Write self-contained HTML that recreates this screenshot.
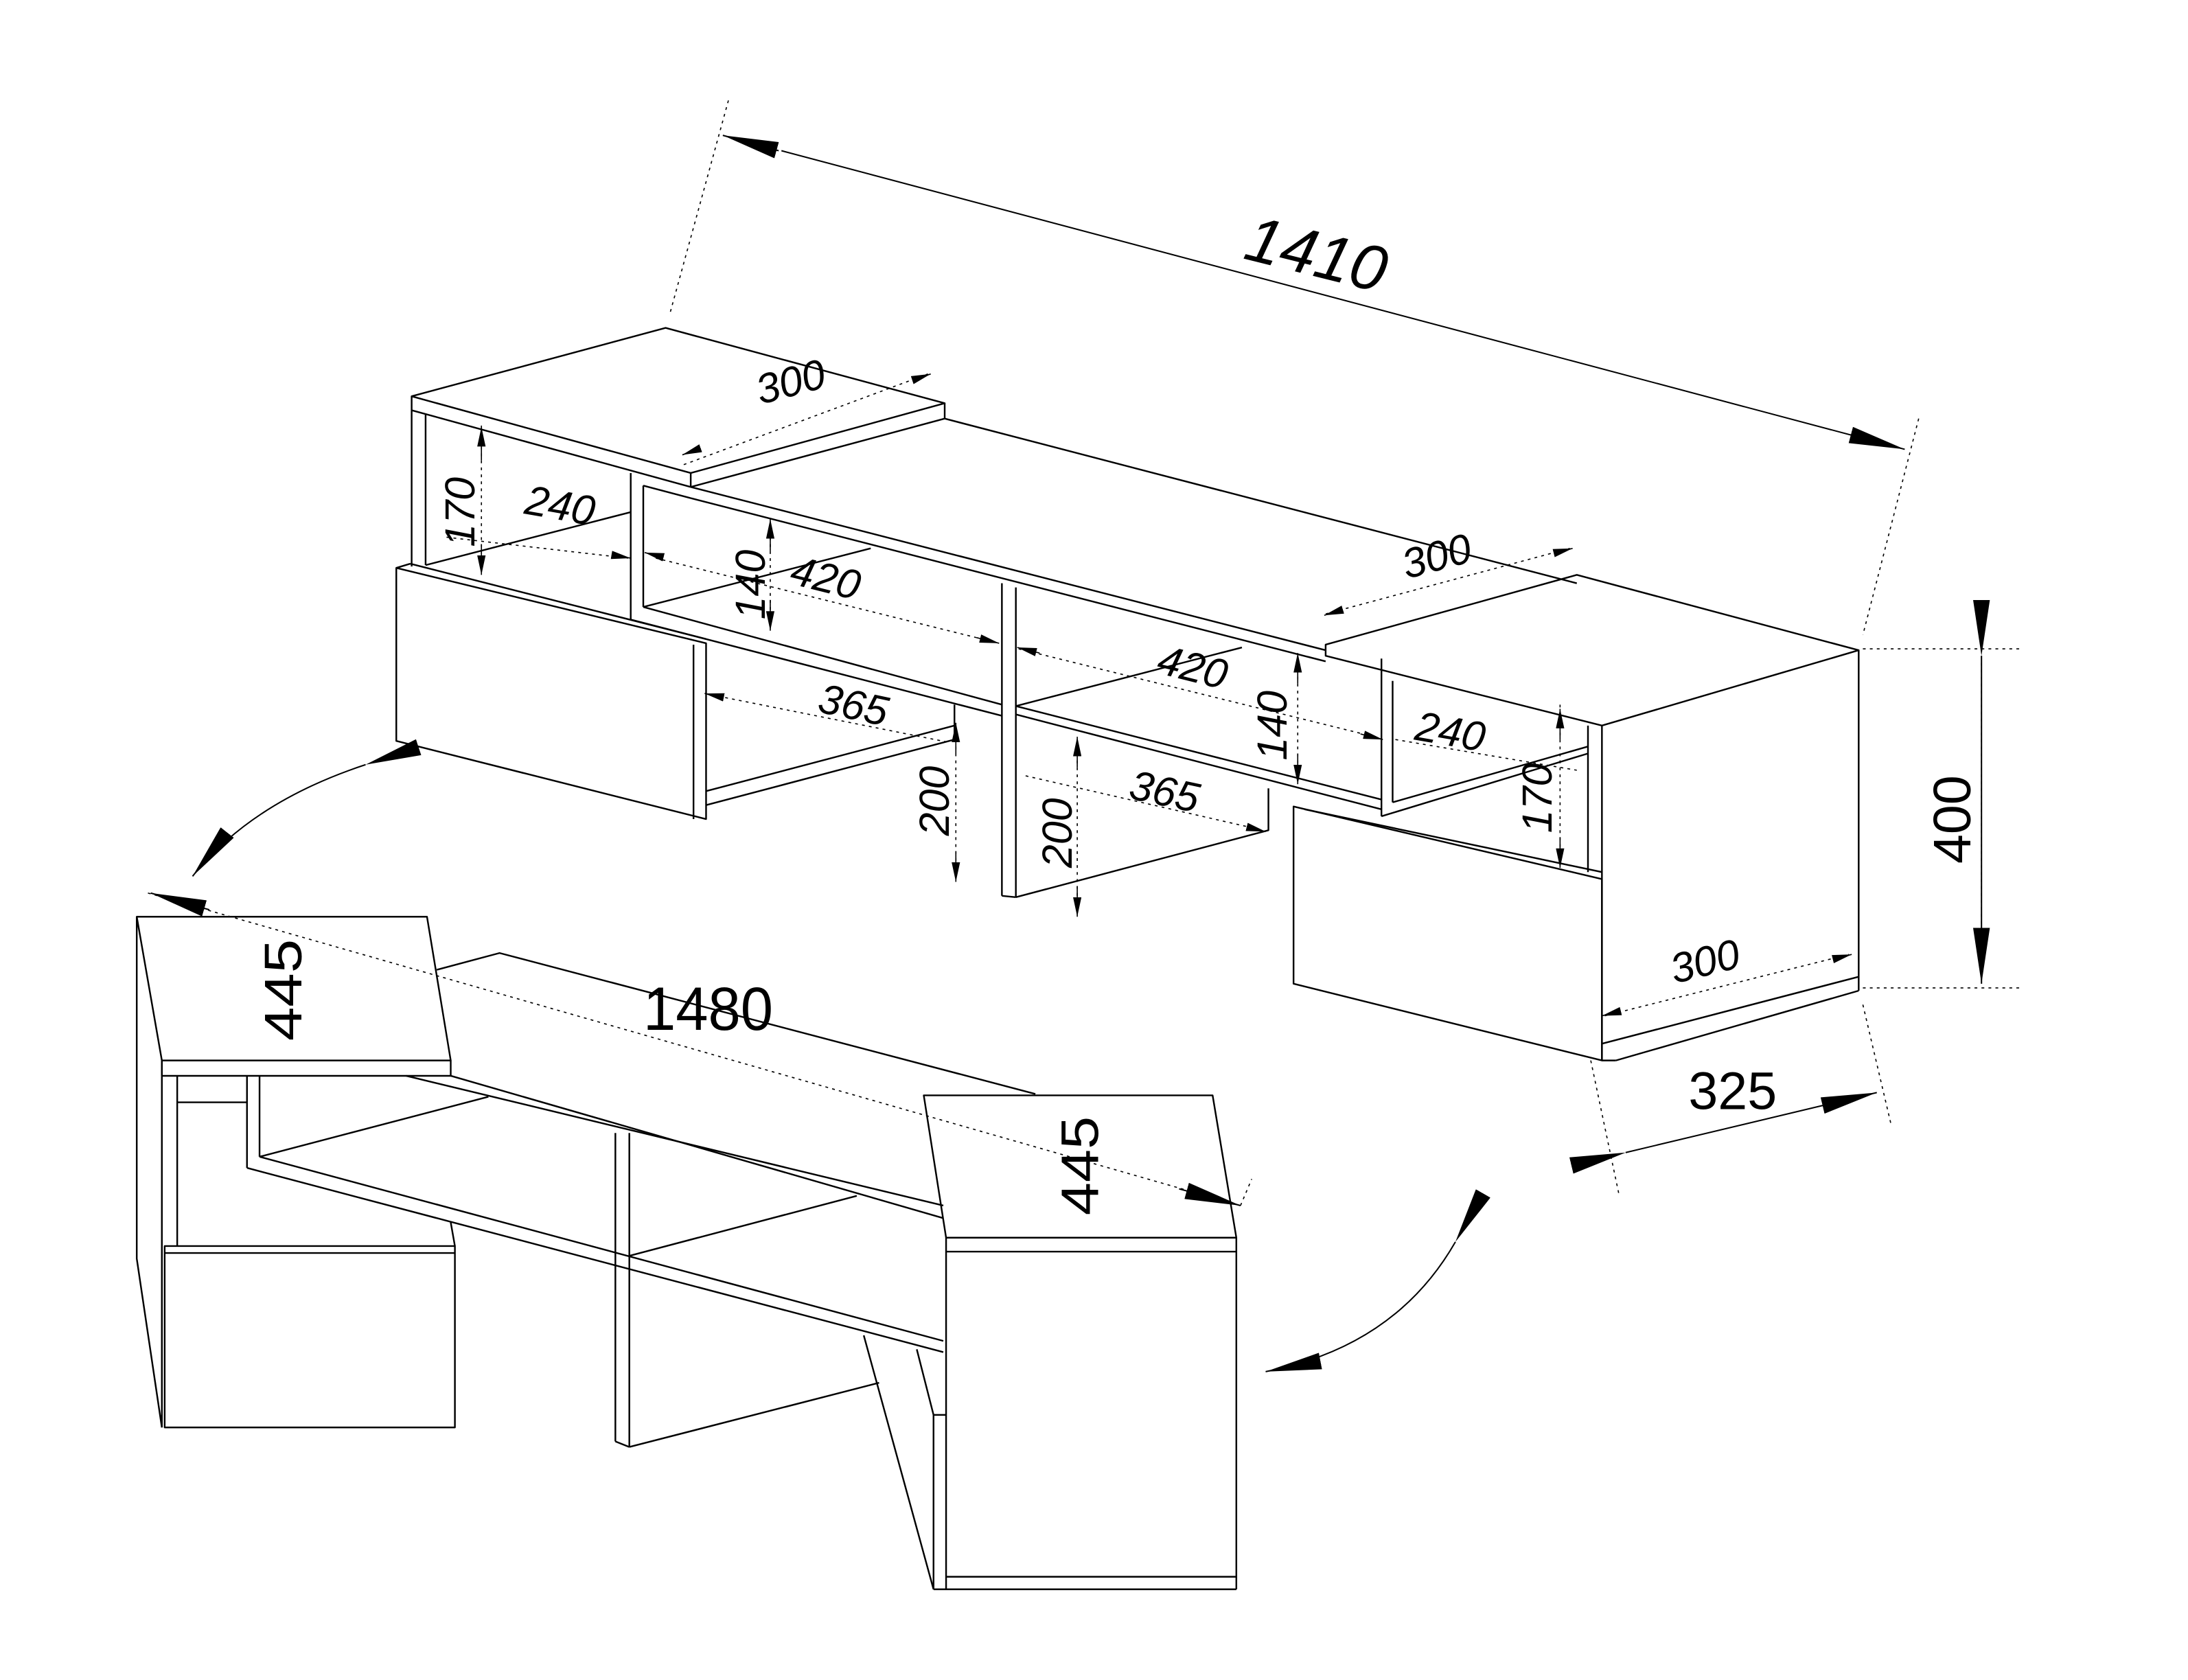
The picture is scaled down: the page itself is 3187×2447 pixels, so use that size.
<!DOCTYPE html>
<html><head><meta charset="utf-8">
<style>
html,body{margin:0;padding:0;background:#fff;}
svg{display:block;}
text{font-family:"Liberation Sans",sans-serif;fill:#000;}
</style></head>
<body>
<svg width="3187" height="2447" viewBox="0 0 1568 1204" preserveAspectRatio="none" xmlns="http://www.w3.org/2000/svg">
<defs>
<marker id="a" viewBox="0 0 40 12" refX="40" refY="6" markerWidth="40" markerHeight="12" markerUnits="userSpaceOnUse" orient="auto">
<path d="M0,0 L40,6 L0,12 Z" fill="#000"/></marker>
<marker id="s" viewBox="0 0 14 6" refX="14" refY="3" markerWidth="14" markerHeight="6" markerUnits="userSpaceOnUse" orient="auto">
<path d="M0,0 L14,3 L0,6 Z" fill="#000"/></marker>
</defs>
<rect width="1568" height="1204" fill="#fff"/>
<g fill="none" stroke="#000" stroke-width="1.2" stroke-linejoin="round">
<!-- UPPER UNIT -->
<polygon points="295,284 477,235 677,289 495,339"/>
<line x1="295" y1="284" x2="295" y2="294"/>
<line x1="295" y1="294" x2="495" y2="349"/>
<line x1="495" y1="339" x2="495" y2="349"/>
<line x1="677" y1="289" x2="677" y2="300"/>
<line x1="677" y1="300" x2="495" y2="349"/>
<line x1="677" y1="300" x2="1130" y2="418"/>
<line x1="295" y1="294" x2="295" y2="406"/>
<line x1="305" y1="297" x2="305" y2="405"/>
<line x1="305" y1="405" x2="452" y2="367"/>
<line x1="452" y1="339" x2="452" y2="444"/>
<line x1="461" y1="348" x2="461" y2="435"/>
<line x1="461" y1="435" x2="624" y2="393"/>
<line x1="495" y1="349" x2="950" y2="466"/>
<line x1="461" y1="348" x2="495" y2="357"/>
<line x1="495" y1="357" x2="950" y2="474"/>
<line x1="452" y1="444" x2="718" y2="513"/>
<line x1="461" y1="435" x2="718" y2="505"/>
<line x1="728" y1="512" x2="990" y2="580"/>
<line x1="728" y1="506" x2="990" y2="573"/>
<!-- left drawer -->
<polygon points="284,407 506,461 506,587 284,531"/>
<line x1="284" y1="407" x2="294" y2="404"/>
<line x1="294" y1="404" x2="506" y2="458"/>
<line x1="497" y1="462" x2="497" y2="587"/>
<line x1="506" y1="567" x2="684" y2="520"/>
<line x1="506" y1="577" x2="684" y2="530"/>
<line x1="684" y1="505" x2="684" y2="530"/>
<!-- center divider -->
<line x1="718" y1="418" x2="718" y2="642"/>
<line x1="728" y1="421" x2="728" y2="643"/>
<line x1="718" y1="642" x2="728" y2="643"/>
<line x1="728" y1="506" x2="890" y2="464"/>
<polyline points="728,643 909,595 909,565"/>
<!-- right cube -->
<polygon points="950,462 1130,412 1332,466 1148,520 950,470"/>
<line x1="1148" y1="520" x2="1148" y2="760"/>
<line x1="1138" y1="520" x2="1138" y2="625"/>
<line x1="1332" y1="466" x2="1332" y2="710"/>
<line x1="1148" y1="748" x2="1332" y2="700"/>
<line x1="1158" y1="760" x2="1332" y2="710"/>
<line x1="1148" y1="760" x2="1158" y2="760"/>
<line x1="990" y1="472" x2="990" y2="585"/>
<line x1="998" y1="488" x2="998" y2="575"/>
<line x1="990" y1="585" x2="1138" y2="540"/>
<line x1="998" y1="575" x2="1138" y2="535"/>
<!-- right drawer -->
<polygon points="927,578 1148,630 1148,760 927,705"/>
<line x1="935" y1="580" x2="1148" y2="625"/>

<!-- LOWER UNIT -->
<polygon points="98,657 306,657 323,760 116,760"/>
<line x1="116" y1="760" x2="116" y2="771"/>
<line x1="323" y1="760" x2="323" y2="771"/>
<line x1="116" y1="771" x2="323" y2="771"/>
<polyline points="98,657 98,902 116,1023"/>
<line x1="116" y1="760" x2="116" y2="1023"/>
<line x1="127" y1="771" x2="127" y2="893"/>
<line x1="127" y1="790" x2="177" y2="790"/>
<line x1="177" y1="771" x2="177" y2="837"/>
<line x1="186" y1="771" x2="186" y2="829"/>
<polygon points="118,893 326,893 326,1023 118,1023"/>
<line x1="118" y1="898" x2="326" y2="898"/>
<line x1="323" y1="876" x2="326" y2="893"/>
<polyline points="313,695 358,683 742,784"/>
<line x1="291" y1="771" x2="676" y2="864"/>
<line x1="323" y1="771" x2="676" y2="873"/>
<line x1="177" y1="837" x2="676" y2="969"/>
<line x1="186" y1="829" x2="676" y2="961"/>
<line x1="186" y1="829" x2="350" y2="786"/>
<line x1="451" y1="900" x2="614" y2="857"/>
<line x1="441" y1="812" x2="441" y2="1033"/>
<line x1="451" y1="812" x2="451" y2="1037"/>
<line x1="441" y1="1033" x2="451" y2="1037"/>
<line x1="451" y1="1037" x2="630" y2="991"/>
<polygon points="662,785 869,785 886,887 678,887"/>
<line x1="678" y1="887" x2="678" y2="897"/>
<line x1="886" y1="887" x2="886" y2="1139"/>
<line x1="678" y1="897" x2="886" y2="897"/>
<line x1="678" y1="897" x2="678" y2="1139"/>
<line x1="669" y1="1139" x2="886" y2="1139"/>
<line x1="678" y1="1130" x2="886" y2="1130"/>
<line x1="669" y1="1014" x2="669" y2="1139"/>
<line x1="669" y1="1014" x2="678" y2="1014"/>
<polyline points="619,957 669,1139"/>
<line x1="657" y1="967" x2="669" y2="1014"/>
</g>

<!-- DIMENSION LINES -->
<g fill="none" stroke="#000" stroke-width="0.8" stroke-dasharray="2,3">
<line x1="522" y1="72" x2="480" y2="225"/>
<line x1="1375" y1="300" x2="1335" y2="455"/>
<line x1="490" y1="333" x2="665" y2="268"/>
<line x1="950" y1="440" x2="1125" y2="393"/>
<line x1="345" y1="305" x2="345" y2="410"/>
<line x1="320" y1="385" x2="450" y2="400"/>
<line x1="552" y1="375" x2="552" y2="450"/>
<line x1="470" y1="400" x2="712" y2="460"/>
<line x1="730" y1="465" x2="985" y2="528"/>
<line x1="930" y1="470" x2="930" y2="560"/>
<line x1="505" y1="497" x2="680" y2="532"/>
<line x1="685" y1="530" x2="685" y2="630"/>
<line x1="772" y1="530" x2="772" y2="655"/>
<line x1="735" y1="556" x2="905" y2="595"/>
<line x1="1000" y1="530" x2="1130" y2="552"/>
<line x1="1118" y1="505" x2="1118" y2="615"/>
<line x1="1150" y1="728" x2="1325" y2="684"/>
<line x1="1335" y1="465" x2="1450" y2="465"/>
<line x1="1335" y1="708" x2="1450" y2="708"/>
<line x1="1420" y1="470" x2="1420" y2="703"/>
<line x1="1140" y1="760" x2="1160" y2="855"/>
<line x1="1335" y1="720" x2="1355" y2="805"/>
<line x1="106" y1="640" x2="889" y2="864"/>
<line x1="889" y1="864" x2="897" y2="845"/>
</g>
<g fill="none" stroke="#000" stroke-width="1">
<line x1="1165" y1="826" x2="1345" y2="783" marker-start="url(#a)" marker-end="url(#a)"/>
<line x1="1420" y1="470" x2="1420" y2="705" marker-start="url(#a)" marker-end="url(#a)"/>
<line x1="560" y1="108" x2="1365" y2="322" marker-end="url(#a)"/>
<line x1="558" y1="108" x2="518" y2="97" marker-end="url(#a)"/>
<line x1="150" y1="652" x2="108" y2="640" marker-end="url(#a)"/>
<line x1="845" y1="852" x2="889" y2="864" marker-end="url(#a)"/>
<path d="M262,548 Q180,575 138,628" marker-start="url(#a)" marker-end="url(#a)"/>
<path d="M1043,890 Q1000,965 907,983" marker-start="url(#a)" marker-end="url(#a)"/>
</g>
<g fill="none" stroke="#000" stroke-width="0.8">
<line x1="345" y1="330" x2="345" y2="306" marker-end="url(#s)"/>
<line x1="345" y1="390" x2="345" y2="412" marker-end="url(#s)"/>
<line x1="552" y1="395" x2="552" y2="372" marker-end="url(#s)"/>
<line x1="552" y1="430" x2="552" y2="452" marker-end="url(#s)"/>
<line x1="930" y1="490" x2="930" y2="468" marker-end="url(#s)"/>
<line x1="930" y1="540" x2="930" y2="562" marker-end="url(#s)"/>
<line x1="685" y1="540" x2="685" y2="518" marker-end="url(#s)"/>
<line x1="685" y1="610" x2="685" y2="632" marker-end="url(#s)"/>
<line x1="772" y1="550" x2="772" y2="528" marker-end="url(#s)"/>
<line x1="772" y1="635" x2="772" y2="657" marker-end="url(#s)"/>
<line x1="1118" y1="530" x2="1118" y2="508" marker-end="url(#s)"/>
<line x1="1118" y1="600" x2="1118" y2="622" marker-end="url(#s)"/>
<line x1="440" y1="398" x2="452" y2="400" marker-end="url(#s)"/>
<line x1="470" y1="398" x2="462" y2="396" marker-end="url(#s)"/>
<line x1="700" y1="457" x2="716" y2="461" marker-end="url(#s)"/>
<line x1="745" y1="468" x2="729" y2="464" marker-end="url(#s)"/>
<line x1="975" y1="526" x2="991" y2="530" marker-end="url(#s)"/>
<line x1="500" y1="322" x2="489" y2="326" marker-end="url(#s)"/>
<line x1="655" y1="272" x2="667" y2="268" marker-end="url(#s)"/>
<line x1="962" y1="437" x2="949" y2="441" marker-end="url(#s)"/>
<line x1="1115" y1="396" x2="1127" y2="393" marker-end="url(#s)"/>
<line x1="1160" y1="725" x2="1148" y2="728" marker-end="url(#s)"/>
<line x1="1315" y1="687" x2="1327" y2="684" marker-end="url(#s)"/>
<line x1="515" y1="499" x2="505" y2="497" marker-end="url(#s)"/>
<line x1="895" y1="593" x2="907" y2="596" marker-end="url(#s)"/>
</g>

<!-- LABELS -->
<g font-style="italic">
<text x="0" y="0" font-size="46" transform="translate(890,185) rotate(14)">1410</text>
<text x="0" y="0" font-size="30" transform="translate(545,290) rotate(-15)">300</text>
<text x="0" y="0" font-size="30" transform="translate(1008,415) rotate(-15)">300</text>
<text x="0" y="0" font-size="30" transform="translate(375,368) rotate(10)">240</text>
<text x="0" y="0" font-size="30" transform="translate(1013,530) rotate(10)">240</text>
<text x="0" y="0" font-size="30" transform="translate(565,418) rotate(14)">420</text>
<text x="0" y="0" font-size="30" transform="translate(828,482) rotate(14)">420</text>
<text x="0" y="0" font-size="30" transform="translate(585,510) rotate(12)">365</text>
<text x="0" y="0" font-size="30" transform="translate(808,572) rotate(12)">365</text>
<text x="0" y="0" font-size="30" transform="translate(340,392) rotate(-90)">170</text>
<text x="0" y="0" font-size="30" transform="translate(1112,597) rotate(-90)">170</text>
<text x="0" y="0" font-size="30" transform="translate(548,444) rotate(-90)">140</text>
<text x="0" y="0" font-size="30" transform="translate(922,545) rotate(-90)">140</text>
<text x="0" y="0" font-size="30" transform="translate(680,599) rotate(-90)">200</text>
<text x="0" y="0" font-size="30" transform="translate(768,622) rotate(-90)">200</text>
<text x="0" y="0" font-size="30" transform="translate(1200,705) rotate(-14)">300</text>
</g>
<text x="0" y="0" font-size="38" transform="translate(1412,619) rotate(-90)">400</text>
<text x="1210" y="795" font-size="38">325</text>
<text x="461" y="738" font-size="44" textLength="93" lengthAdjust="spacingAndGlyphs">1480</text>
<text x="0" y="0" font-size="38" transform="translate(216,746) rotate(-90)" textLength="73" lengthAdjust="spacingAndGlyphs">445</text>
<text x="0" y="0" font-size="38" transform="translate(787,871) rotate(-90)" textLength="71" lengthAdjust="spacingAndGlyphs">445</text>
</svg>
</body></html>
